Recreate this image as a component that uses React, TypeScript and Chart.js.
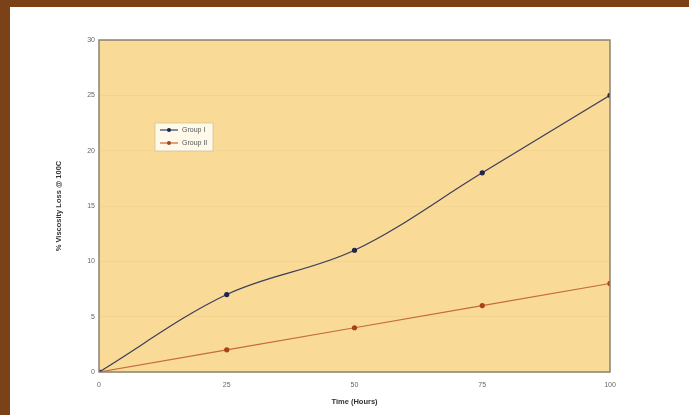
import React, { useEffect, useRef } from "react";
import { Chart, registerables } from "chart.js";

Chart.register(...registerables);

const hours = [0, 25, 50, 75, 100];
const groupI = [0, 7, 11, 18, 25];
const groupII = [0, 2, 4, 6, 8];
const seriesNames = ["Group I", "Group II"];
const xTitle = "Time (Hours)";
const yTitle = "% Viscosity Loss @ 100C";

const FONT = "'Liberation Sans', Arial, sans-serif";

const plotBgPlugin = {
  id: "plotBg",
  beforeDraw(chart: any) {
    const { ctx, chartArea } = chart;
    if (!chartArea) return;
    ctx.save();
    ctx.fillStyle = "#f9da97";
    ctx.fillRect(chartArea.left, chartArea.top, chartArea.right - chartArea.left, chartArea.bottom - chartArea.top);
    ctx.restore();
  },
  afterDatasetsDraw(chart: any) {
    const { ctx, chartArea } = chart;
    ctx.save();
    ctx.strokeStyle = "#8a8274";
    ctx.lineWidth = 1.5;
    ctx.strokeRect(chartArea.left, chartArea.top, chartArea.right - chartArea.left, chartArea.bottom - chartArea.top);
    ctx.restore();
  },
};

const insideLegendPlugin = {
  id: "insideLegend",
  afterDraw(chart: any) {
    const { ctx, chartArea } = chart;
    const x = chartArea.left + 56;
    const y = chartArea.top + 83;
    const w = 58;
    const h = 28;
    ctx.save();
    ctx.fillStyle = "rgba(255,252,243,0.9)";
    ctx.fillRect(x, y, w, h);
    ctx.strokeStyle = "rgba(200,185,150,0.8)";
    ctx.lineWidth = 0.8;
    ctx.strokeRect(x, y, w, h);
    chart.data.datasets.forEach((ds: any, i: number) => {
      const cy = y + 7 + i * 13;
      ctx.strokeStyle = ds.borderColor;
      ctx.lineWidth = 1.2;
      ctx.beginPath();
      ctx.moveTo(x + 5, cy);
      ctx.lineTo(x + 23, cy);
      ctx.stroke();
      ctx.fillStyle = ds.pointBackgroundColor;
      ctx.beginPath();
      ctx.arc(x + 14, cy, 2, 0, Math.PI * 2);
      ctx.fill();
      ctx.fillStyle = "#555";
      ctx.font = `7px ${FONT}`;
      ctx.textBaseline = "middle";
      ctx.textAlign = "left";
      ctx.fillText(ds.label, x + 27, cy + 0.5);
    });
    ctx.restore();
  },
};

export default function App() {
  const ref = useRef<HTMLCanvasElement>(null);
  useEffect(() => {
    document.body.style.margin = "0";
    const chart = new Chart(ref.current!, {
      type: "line",
      data: {
        labels: hours,
        datasets: [
          {
            label: seriesNames[0],
            data: hours.map((h, i) => ({ x: h, y: groupI[i] })),
            borderColor: "#3b3d5c",
            backgroundColor: "#1f2450",
            pointBackgroundColor: "#1f2450",
            pointBorderColor: "#1f2450",
            pointRadius: 2,
            borderWidth: 1.2,
            tension: 0.35,
          },
          {
            label: seriesNames[1],
            data: hours.map((h, i) => ({ x: h, y: groupII[i] })),
            borderColor: "#c46a3c",
            backgroundColor: "#a8401c",
            pointBackgroundColor: "#a8401c",
            pointBorderColor: "#a8401c",
            pointRadius: 2,
            borderWidth: 1.2,
            tension: 0,
          },
        ],
      },
      options: {
        animation: false,
        responsive: false,
        maintainAspectRatio: false,
        layout: { padding: { left: 44, top: 33, right: 79, bottom: 9 } },
        plugins: {
          legend: { display: false },
          tooltip: { enabled: false },
        },
        scales: {
          x: {
            type: "linear",
            min: 0,
            max: 100,
            afterBuildTicks(scale: any) {
              scale.ticks = hours.map((v) => ({ value: v }));
            },
            afterFit(scale: any) {
              scale.height = 34;
            },
            grid: { display: false, drawTicks: false },
            border: { display: false },
            ticks: {
              padding: 9,
              color: "#666",
              font: { family: FONT, size: 7 },
              maxRotation: 0,
            },
            title: {
              display: true,
              text: xTitle,
              color: "#333",
              font: { family: FONT, size: 7.5, weight: "bold" },
              padding: { top: 4, bottom: 0 },
            },
          },
          y: {
            min: 0,
            max: 30,
            ticks: {
              stepSize: 5,
              padding: 4,
              color: "#666",
              font: { family: FONT, size: 7 },
            },
            afterFit(scale: any) {
              scale.width = 45;
            },
            grid: {
              color: "rgba(225,190,120,0.3)",
              lineWidth: 0.8,
              drawTicks: false,
            },
            border: { display: false },
            title: {
              display: true,
              text: yTitle,
              color: "#333",
              font: { family: FONT, size: 7.5, weight: "bold" },
              padding: { top: 0, bottom: 4 },
            },
          },
        },
      },
      plugins: [plotBgPlugin, insideLegendPlugin],
    } as any);
    return () => chart.destroy();
  }, []);
  return (
    <div
      style={{
        width: 679,
        height: 408,
        borderTop: "7px solid #7b4117",
        borderLeft: "10px solid #7b4117",
        background: "#ffffff",
      }}
    >
      <canvas ref={ref} width={679} height={408} style={{ display: "block", width: 679, height: 408 }} />
    </div>
  );
}
